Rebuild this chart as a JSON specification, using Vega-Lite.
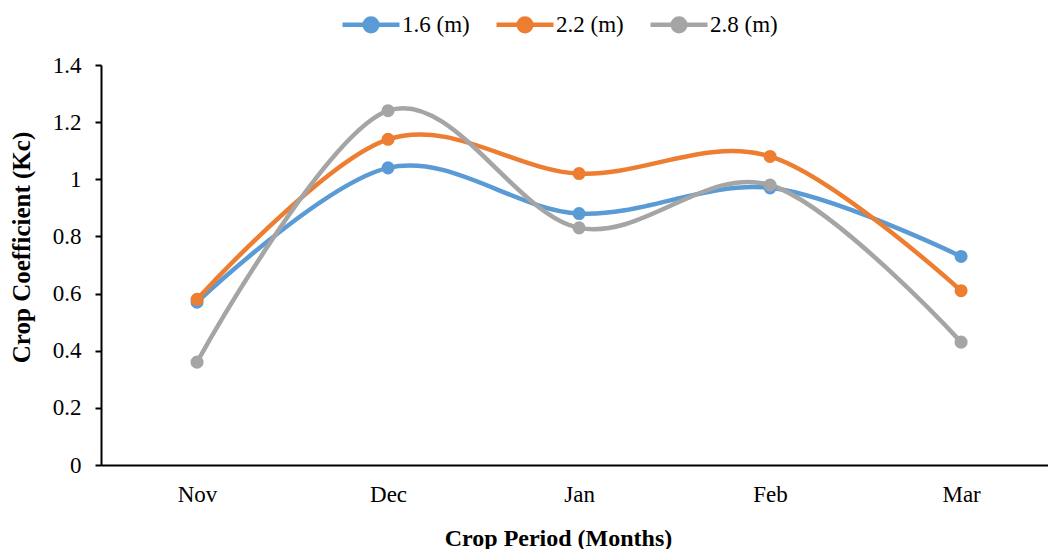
{
  "$schema": "https://vega.github.io/schema/vega-lite/v6.json",
  "width": 947,
  "height": 400,
  "autosize": "none",
  "padding": {"left": 101, "top": 65, "right": 0, "bottom": 84},
  "background": "white",
  "config": {
    "view": {"stroke": null},
    "font": "Liberation Serif",
    "axis": {"labelFont": "Liberation Serif", "titleFont": "Liberation Serif", "labelColor": "black", "titleColor": "black", "domainColor": "black", "tickColor": "black", "grid": false, "labelFontSize": 23, "titleFontSize": 24, "titleFontWeight": "bold", "domainWidth": 2, "tickWidth": 2}
  },
  "data": {
    "values": [
      {"month": "Nov", "series": "1.6 (m)", "kc": 0.57},
      {"month": "Dec", "series": "1.6 (m)", "kc": 1.04},
      {"month": "Jan", "series": "1.6 (m)", "kc": 0.88},
      {"month": "Feb", "series": "1.6 (m)", "kc": 0.97},
      {"month": "Mar", "series": "1.6 (m)", "kc": 0.73},
      {"month": "Nov", "series": "2.2 (m)", "kc": 0.58},
      {"month": "Dec", "series": "2.2 (m)", "kc": 1.14},
      {"month": "Jan", "series": "2.2 (m)", "kc": 1.02},
      {"month": "Feb", "series": "2.2 (m)", "kc": 1.08},
      {"month": "Mar", "series": "2.2 (m)", "kc": 0.61},
      {"month": "Nov", "series": "2.8 (m)", "kc": 0.36},
      {"month": "Dec", "series": "2.8 (m)", "kc": 1.24},
      {"month": "Jan", "series": "2.8 (m)", "kc": 0.83},
      {"month": "Feb", "series": "2.8 (m)", "kc": 0.98},
      {"month": "Mar", "series": "2.8 (m)", "kc": 0.43}
    ]
  },
  "encoding": {
    "x": {"field": "month", "type": "ordinal", "sort": ["Nov", "Dec", "Jan", "Feb", "Mar"],
      "scale": {"type": "point", "padding": 0.479, "align": 0.525},
      "axis": {"title": "Crop Period (Months)", "titleX": 457, "labelAngle": 0, "ticks": false, "labelPadding": 18, "titlePadding": 20}},
    "y": {"field": "kc", "type": "quantitative",
      "scale": {"domain": [0, 1.4], "nice": false},
      "axis": {"title": "Crop Coefficient (Kc)", "titleFontSize": 25, "titleY": 182, "format": "~g", "values": [0, 0.2, 0.4, 0.6, 0.8, 1, 1.2, 1.4], "tickSize": 6, "labelPadding": 14, "titlePadding": 18}},
    "color": {"field": "series", "type": "nominal",
      "scale": {"domain": ["1.6 (m)", "2.2 (m)", "2.8 (m)"], "range": ["#5B9BD5", "#ED7D31", "#A5A5A5"]},
      "legend": {"title": null, "orient": "none", "direction": "horizontal", "legendX": 239, "legendY": -71.5,
        "symbolType": "M-1,0L1,0M-0.22,0A0.22,0.22,0,1,1,0.22,0A0.22,0.22,0,1,1,-0.22,0Z",
        "symbolSize": 3249, "symbolStrokeWidth": 4.5, "labelFontSize": 23, "labelFont": "Liberation Serif", "labelColor": "black", "labelOffset": 0, "columnPadding": 17,
        "encode": {"symbols": {"update": {"fill": {"scale": "color", "field": "value"}, "stroke": {"scale": "color", "field": "value"}, "opacity": {"value": 1}}}}}
    }
  },
  "layer": [
    {"mark": {"type": "line", "interpolate": "cardinal", "tension": 0, "strokeWidth": 4.5}},
    {"mark": {"type": "point", "filled": true, "size": 170, "opacity": 1}}
  ]
}
